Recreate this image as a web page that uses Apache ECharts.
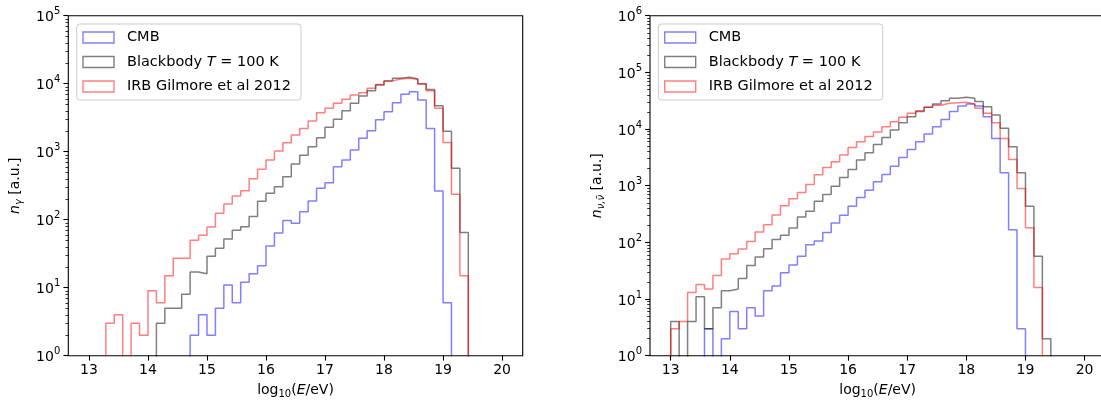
<!DOCTYPE html>
<html><head><meta charset="utf-8">
<script src="https://cdn.jsdelivr.net/npm/echarts@6/dist/echarts.min.js"></script>
<style>html,body{margin:0;padding:0;background:#fff}#c{width:1101px;height:400px}</style>
</head><body><div id="c"></div>
<script>
// histogram binning: 49 bins from 13 to 20 in log10(E/eV)
const binStart = 13, binEnd = 20, binCount = 49;

// Left panel (photons n_gamma)
const leftCMB = [0,0,0,0,0,0,0,0,0,0,0,0,2,4,2,5,11,6,12,16,21,41,64,97,89,131,188,290,350,600,755,1060,1580,2040,2960,3880,5240,7000,7620,5750,2200,265,6,0,0,0,0,0,0];
const leftBB  = [0,0,0,0,0,0,0,0,3,5,5,8,17,16,29,38,52,70,79,111,186,245,306,428,660,890,1180,1600,2280,3000,4000,5150,6600,7900,9600,11000,12000,12400,11700,10000,8250,4750,2000,570,65,0,0,0,0];
const leftIRB = [0,0,3,4,0,3,2,9,6,15,27,27,50,59,78,124,170,223,267,400,553,755,1020,1350,1760,2200,2830,3740,4350,5150,5900,6800,7370,8550,9700,11000,11700,12000,11600,9890,7900,4350,1360,237,15,0,0,0,0];

// Right panel (neutrinos n_nu)
const rightCMB = [0,0,0,0,3,0,2,6,3,7,5,14,17,29,40,57,91,106,150,220,300,434,620,830,1170,1580,2210,3150,4370,5970,8150,11000,14800,20300,25500,27700,25500,16500,6840,1690,167,3,0,0,0,0,0,0,0];
const rightBB  = [4,0,4,11,3,7,14,15,23,39,55,77,112,133,179,281,354,530,700,980,1400,1940,2830,3820,5340,7100,9570,12900,16500,20300,24200,27700,31700,35000,36300,35000,30500,24800,17700,10300,4860,1690,434,57,2,0,0,0,0];
const rightIRB = [3,4,13,18,15,26,51,63,76,104,152,205,305,445,591,755,1050,1560,2090,2640,3470,4700,5970,7400,8900,11000,13400,16100,18900,21000,24200,26300,28500,29200,29600,27700,23200,18900,12900,6840,2900,890,182,16,0,0,0,0,0];

const seriesNames = ['CMB', 'Blackbody T = 100 K', 'IRB Gilmore et al 2012'];
const xTicks = [13,14,15,16,17,18,19,20];
const leftYTicks = [1,10,100,1000,10000,100000];
const rightYTicks = [1,10,100,1000,10000,100000,1000000];
const minorMult = [2,3,4,5,6,7,8,9];

const colors = ['rgba(0,0,255,0.5)', 'rgba(0,0,0,0.5)', 'rgba(255,0,0,0.5)'];
const FONT = 'DejaVu Sans';

function minorTicks(major) {
  const out = [];
  for (let i = 0; i < major.length - 1; i++) minorMult.forEach(m => out.push(m * major[i]));
  return out;
}
function edge(i) { return binStart + (binEnd - binStart) * i / binCount; }
function stepPoints(counts) {
  const floor = 1e-3;
  const pts = [[edge(0), floor]];
  counts.forEach((c, i) => { const v = c > 0 ? c : floor; pts.push([edge(i), v], [edge(i + 1), v]); });
  pts.push([edge(counts.length), floor]);
  return pts;
}

const richTick = {
  b: {fontSize: 14, fontFamily: FONT, color: '#000', lineHeight: 18, verticalAlign: 'bottom'},
  s: {fontSize: 10, fontFamily: FONT, color: '#000', lineHeight: 10, verticalAlign: 'top'}
};
const richName = {
  r: {fontSize: 14, fontFamily: FONT, color: '#000', lineHeight: 18},
  i: {fontSize: 14, fontFamily: FONT, color: '#000', fontStyle: 'italic', lineHeight: 18},
  sub: {fontSize: 10, fontFamily: FONT, color: '#000', lineHeight: 10, verticalAlign: 'bottom'},
  subi: {fontSize: 10, fontFamily: FONT, color: '#000', fontStyle: 'italic', lineHeight: 10, verticalAlign: 'bottom'}
};

const grids = [
  {left: 68.3, top: 15.7, width: 454.4, height: 340},
  {left: 650, top: 15.7, width: 455.3, height: 340}
].map(g => Object.assign(g, {show: true, borderColor: '#000', borderWidth: 1.1, backgroundColor: 'transparent', containLabel: false, outerBoundsMode: 'none'}));

const xAxes = [0, 1].map(gi => ({
  type: 'value', gridIndex: gi, min: 12.65, max: 20.35,
  axisLine: {show: false}, splitLine: {show: false},
  axisTick: {show: true, inside: false, length: 4.9, customValues: xTicks, lineStyle: {color: '#000', width: 1.1}},
  axisLabel: {show: true, margin: 8, customValues: xTicks, fontSize: 14, fontFamily: FONT, color: '#000', formatter: v => String(Math.round(v))},
  name: '{r|log}{sub|10}{r|(}{i|E}{r|/eV)}', nameLocation: 'middle', nameGap: 26,
  nameTextStyle: {rich: richName}
}));

function yPair(gi, major, nameStr) {
  const fmt = v => '{b|10}{s|' + Math.round(Math.log10(v)) + '}';
  return [
    {
      type: 'log', logBase: 10, gridIndex: gi, position: 'left', min: major[0], max: major[major.length - 1],
      axisLine: {show: false}, splitLine: {show: false}, minorTick: {show: false},
      axisTick: {show: true, inside: false, length: 4.9, customValues: major, lineStyle: {color: '#000', width: 1.1}},
      axisLabel: {show: true, margin: 8, customValues: major, formatter: fmt, rich: richTick},
      name: nameStr, nameLocation: 'middle', nameGap: 44, nameRotate: 90,
      nameTextStyle: {rich: richName}
    },
    {
      type: 'log', logBase: 10, gridIndex: gi, position: 'left', min: major[0], max: major[major.length - 1],
      axisLine: {show: false}, splitLine: {show: false}, axisLabel: {show: false},
      axisTick: {show: true, inside: false, length: 2.8, customValues: minorTicks(major), lineStyle: {color: '#000', width: 0.8}}
    }
  ];
}
const yAxes = [].concat(
  yPair(0, leftYTicks, '{i|n}{subi|γ}{r| [a.u.]}'),
  yPair(1, rightYTicks, '{i|n}{subi|ν,ν̄}{r| [a.u.]}')
);

const panels = [[leftCMB, leftBB, leftIRB], [rightCMB, rightBB, rightIRB]];
const series = [];
panels.forEach((arrs, pi) => {
  arrs.forEach((arr, si) => {
    series.push({
      type: 'line', name: seriesNames[si], xAxisIndex: pi, yAxisIndex: pi * 2,
      data: stepPoints(arr), showSymbol: false, symbol: 'none', clip: true,
      lineStyle: {color: colors[si], width: 1.5}, itemStyle: {color: colors[si]},
      emphasis: {disabled: true}, z: 2 + si
    });
  });
});

const legendRich = {
  r: {fontSize: 14.5, fontFamily: FONT, color: '#000', lineHeight: 16},
  i: {fontSize: 14.5, fontFamily: FONT, color: '#000', fontStyle: 'italic', lineHeight: 16}
};
const legends = [76.7, 658.4].map(lx => ({
  orient: 'vertical', left: lx, top: 24,
  padding: [6, 10, 6, 5.6], itemGap: 9.5, itemWidth: 31, itemHeight: 11,
  backgroundColor: 'rgba(255,255,255,0.8)', borderColor: '#cccccc', borderWidth: 1, borderRadius: 3,
  selectedMode: false, icon: 'rect',
  data: seriesNames.map((n, i) => ({name: n, icon: 'rect', itemStyle: {color: 'transparent', borderColor: colors[i], borderWidth: 1.4}})),
  textStyle: {fontSize: 14.5, fontFamily: FONT, color: '#000', padding: [0, 0, 0, 8], rich: legendRich},
  formatter: n => n.indexOf('Blackbody') === 0 ? '{r|Blackbody }{i|T}{r| = 100 K}' : '{r|' + n + '}'
}));

const chart = echarts.init(document.getElementById('c'), null, {renderer: 'canvas'});
chart.setOption({
  animation: false,
  backgroundColor: '#fff',
  grid: grids, xAxis: xAxes, yAxis: yAxes, series: series, legend: legends
});
</script></body></html>
